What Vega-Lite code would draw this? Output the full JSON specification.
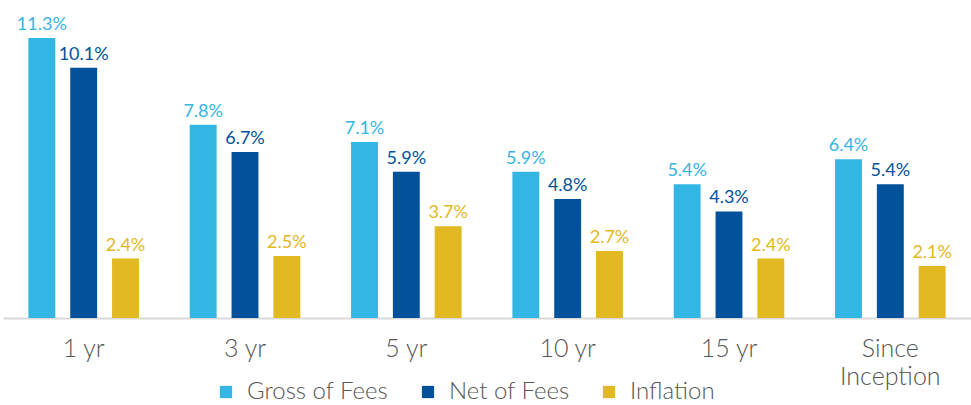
{
  "$schema": "https://vega.github.io/schema/vega-lite/v6.json",
  "width": 968,
  "height": 318,
  "autosize": {"type": "none"},
  "padding": {"left": 3, "top": 0, "right": 0, "bottom": 87},
  "background": "white",
  "config": {"view": {"stroke": null}, "font": "Lato"},
  "data": {
    "values": [
      {"period": "1 yr", "series": "Gross of Fees", "value": 11.3},
      {"period": "1 yr", "series": "Net of Fees", "value": 10.1},
      {"period": "1 yr", "series": "Inflation", "value": 2.4},
      {"period": "3 yr", "series": "Gross of Fees", "value": 7.8},
      {"period": "3 yr", "series": "Net of Fees", "value": 6.7},
      {"period": "3 yr", "series": "Inflation", "value": 2.5},
      {"period": "5 yr", "series": "Gross of Fees", "value": 7.1},
      {"period": "5 yr", "series": "Net of Fees", "value": 5.9},
      {"period": "5 yr", "series": "Inflation", "value": 3.7},
      {"period": "10 yr", "series": "Gross of Fees", "value": 5.9},
      {"period": "10 yr", "series": "Net of Fees", "value": 4.8},
      {"period": "10 yr", "series": "Inflation", "value": 2.7},
      {"period": "15 yr", "series": "Gross of Fees", "value": 5.4},
      {"period": "15 yr", "series": "Net of Fees", "value": 4.3},
      {"period": "15 yr", "series": "Inflation", "value": 2.4},
      {"period": "Since Inception", "series": "Gross of Fees", "value": 6.4},
      {"period": "Since Inception", "series": "Net of Fees", "value": 5.4},
      {"period": "Since Inception", "series": "Inflation", "value": 2.1}
    ]
  },
  "encoding": {
    "x": {
      "field": "period",
      "type": "nominal",
      "sort": ["1 yr", "3 yr", "5 yr", "10 yr", "15 yr", "Since Inception"],
      "scale": {"paddingInner": 0, "paddingOuter": 0},
      "axis": {
        "title": null,
        "labelAngle": 0,
        "labelFont": "Lato",
        "labelFontWeight": 300,
        "labelFontSize": 25,
        "labelColor": "#555555",
        "labelPadding": 18,
        "labelLineHeight": 28,
        "labelExpr": "datum.label == 'Since Inception' ? ['Since', 'Inception'] : datum.label",
        "ticks": false,
        "domainColor": "#d9d9d9",
        "domainWidth": 2,
        "grid": false
      }
    },
    "xOffset": {
      "field": "series",
      "type": "nominal",
      "sort": ["Gross of Fees", "Net of Fees", "Inflation"],
      "scale": {"paddingInner": 0.357, "paddingOuter": 0.607}
    },
    "y": {
      "field": "value",
      "type": "quantitative",
      "scale": {"domain": [0, 12.83], "nice": false},
      "axis": null
    },
    "color": {
      "field": "series",
      "type": "nominal",
      "sort": ["Gross of Fees", "Net of Fees", "Inflation"],
      "scale": {
        "domain": ["Gross of Fees", "Net of Fees", "Inflation"],
        "range": ["#34b6e4", "#02529b", "#e2b922"]
      },
      "legend": {
        "title": null,
        "orient": "none",
        "legendX": 211,
        "legendY": 380,
        "padding": 0,
        "direction": "horizontal",
        "symbolType": "square",
        "symbolSize": 150,
        "symbolStrokeWidth": 0,
        "labelFont": "Lato",
        "labelFontWeight": 300,
        "labelFontSize": 24,
        "labelColor": "#555555",
        "labelOffset": 9,
        "labelLimit": 300,
        "columnPadding": 27
      }
    }
  },
  "layer": [
    {"mark": {"type": "bar"}},
    {
      "transform": [{"calculate": "format(datum.value, '.1f') + '%'", "as": "lbl"}],
      "mark": {"type": "text", "baseline": "bottom", "dy": -4, "fontSize": 18, "fontWeight": 400, "font": "Lato"},
      "encoding": {
        "text": {"field": "lbl", "type": "nominal"},
        "color": {"field": "series", "type": "nominal", "legend": null}
      }
    }
  ]
}
